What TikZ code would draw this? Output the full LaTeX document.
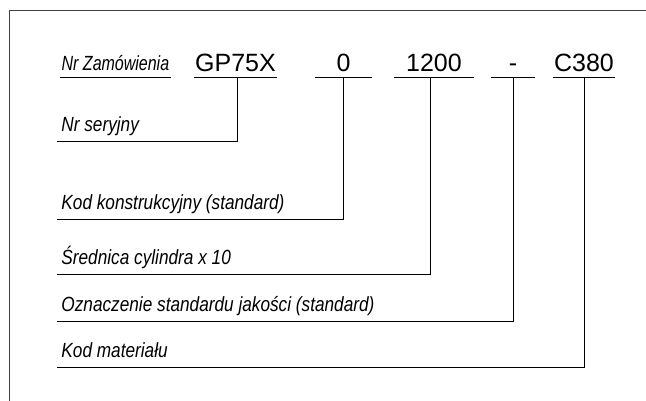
\documentclass[tikz,border=0pt]{standalone}
\usepackage{fontspec}
\setmainfont{Liberation Sans}
\newfontfamily\etykfont[FakeStretch=0.84]{Liberation Sans}
\newfontfamily\naglfont[FakeStretch=0.78]{Liberation Sans}

\begin{document}
\begin{tikzpicture}[x=1pt,y=-1pt,line width=0.9pt,
  kod/.style={inner sep=0pt,inner ysep=5pt,text depth=0pt,anchor=south,font=\fontsize{25}{28}\selectfont},
  opis/.style={inner xsep=4pt,inner ysep=9.5pt,text depth=0pt,anchor=south west,font=\etykfont\itshape\fontsize{20.5}{22}\selectfont}]
  \useasboundingbox (0,0) rectangle (646,401);
  % ramka (gorna i lewa krawedz)
  \draw[black!75,line width=1.3pt] (9.5,401) -- (9.5,10.5) -- (646,10.5);
  % naglowek
  \node[opis,font=\naglfont\itshape\fontsize{20.5}{22}\selectfont,inner ysep=6pt,inner xsep=0pt,minimum width=110pt] (nagl) at (60,77) {Nr Zamówienia};
  \draw (nagl.south west) -- (nagl.south east);
  % kody zamowienia
  \node[kod,minimum width=83pt] (gp) at (235.5,77) {GP75X};
  \node[kod,minimum width=57pt] (zero) at (343.5,77) {0};
  \node[kod,minimum width=80pt] (srednica) at (434,77) {1200};
  \node[kod,minimum width=44pt] (myslnik) at (513,77) {-};
  \node[kod,minimum width=62pt] (mat) at (584,77) {C380};
  \foreach \n in {gp,zero,srednica,myslnik,mat} \draw (\n.south west) -- (\n.south east);
  % opisy
  \node[opis] (seryjny) at (57,141.3) {Nr seryjny};
  \node[opis] (konstr) at (57,219) {Kod konstrukcyjny (standard)};
  \node[opis] (cyl) at (57,274.5) {Średnica cylindra x 10};
  \node[opis] (jakosc) at (57,321.5) {Oznaczenie standardu jakości (standard)};
  \node[opis] (material) at (57,367.3) {Kod materiału};
  % polaczenia
  \draw ([xshift=1.5pt]gp.south) |- (seryjny.south west);
  \draw (zero.south) |- (konstr.south west);
  \draw ([xshift=-4pt]srednica.south) |- (cyl.south west);
  \draw (myslnik.south) |- (jakosc.south west);
  \draw (mat.south) |- (material.south west);
\end{tikzpicture}
\end{document}
